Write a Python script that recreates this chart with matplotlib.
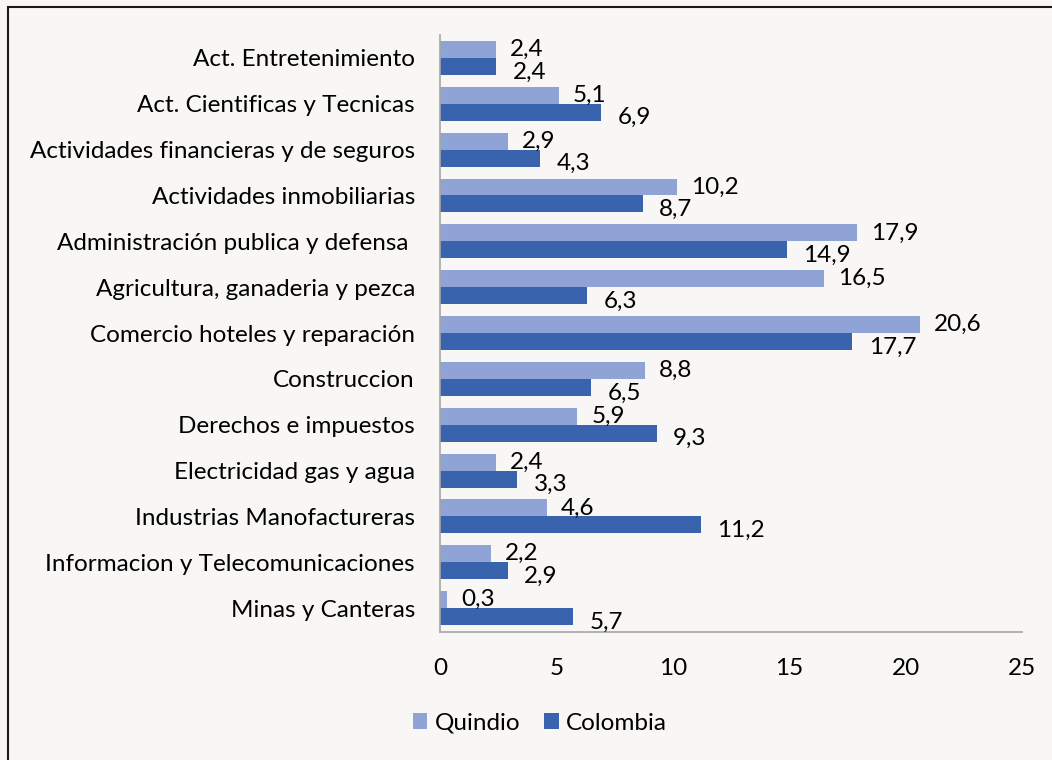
import matplotlib.pyplot as plt
from matplotlib.patches import Rectangle

plt.rcParams['font.family'] = ['Lato', 'DejaVu Sans']

# datos (participación % por sector)
categorias = ['Act. Entretenimiento', 'Act. Cientificas y Tecnicas',
              'Actividades financieras y de seguros', 'Actividades inmobiliarias',
              'Administración publica y defensa ', 'Agricultura, ganaderia y pezca',
              'Comercio hoteles y reparación', 'Construccion', 'Derechos e impuestos',
              'Electricidad gas y agua', 'Industrias Manofactureras',
              'Informacion y Telecomunicaciones', 'Minas y Canteras']
quindio = [2.4, 5.1, 2.9, 10.2, 17.9, 16.5, 20.6, 8.8, 5.9, 2.4, 4.6, 2.2, 0.3]
colombia = [2.4, 6.9, 4.3, 8.7, 14.9, 6.3, 17.7, 6.5, 9.3, 3.3, 11.2, 2.9, 5.7]
xticks = [0, 5, 10, 15, 20, 25]

C_QUIN = '#8FA3D6'
C_COL = '#3A63AD'
BG = '#F8F7F5'
FS = 17.5

fig = plt.figure(figsize=(10.52, 7.6), dpi=100, facecolor=BG)
ax = fig.add_axes([440 / 1052, 1 - 632 / 760, 582 / 1052, 597 / 760])
ax.set_facecolor(BG)

# marco de la figura (solo visible arriba e izquierda)
fig.patches.append(Rectangle((8 / 1052, -0.05), 1.1, 1 - 7 / 760 + 0.05,
                             transform=fig.transFigure, fill=False,
                             edgecolor='#1a1a1a', linewidth=1.5))

n = len(categorias)
pos = list(range(n))
h = 0.37
y_q = [p - h / 2 for p in pos]
y_c = [p + h / 2 for p in pos]

ax.barh(y_q, quindio, height=h, color=C_QUIN, label='Quindio')
ax.barh(y_c, colombia, height=h, color=C_COL, label='Colombia')

fmt = lambda v: f'{v:.1f}'.replace('.', ',')
for y, v in zip(y_q, quindio):
    ax.annotate(fmt(v), (v, y), xytext=(10, 0), textcoords='offset points',
                va='center', ha='left', fontsize=FS, color='black')
for y, v in zip(y_c, colombia):
    ax.annotate(fmt(v), (v, y), xytext=(12, -4), textcoords='offset points',
                va='center', ha='left', fontsize=FS, color='black')

ax.set_xlim(0, 25)
ax.set_ylim(n - 0.5 + 0.02, -0.5)
ax.set_yticks(pos)
ax.set_yticklabels(categorias, fontsize=FS)
ax.set_xticks(xticks)
ax.set_xticklabels([str(t) for t in xticks], fontsize=FS)
ax.tick_params(axis='both', length=0)
ax.tick_params(axis='x', pad=19)
ax.tick_params(axis='y', pad=18)

for s in ['top', 'right']:
    ax.spines[s].set_visible(False)
ax.spines['left'].set_color('#A6A6A6')
ax.spines['bottom'].set_color('#A6A6A6')
ax.spines['left'].set_linewidth(1.2)
ax.spines['bottom'].set_linewidth(1.2)

fig.legend(loc='center', bbox_to_anchor=(540 / 1052, 1 - 723 / 760), ncol=2,
           frameon=False, fontsize=FS, handlelength=0.6, handleheight=0.6,
           handletextpad=0.3, columnspacing=1.0)

fig.savefig('out.png', dpi=100, facecolor=BG)
